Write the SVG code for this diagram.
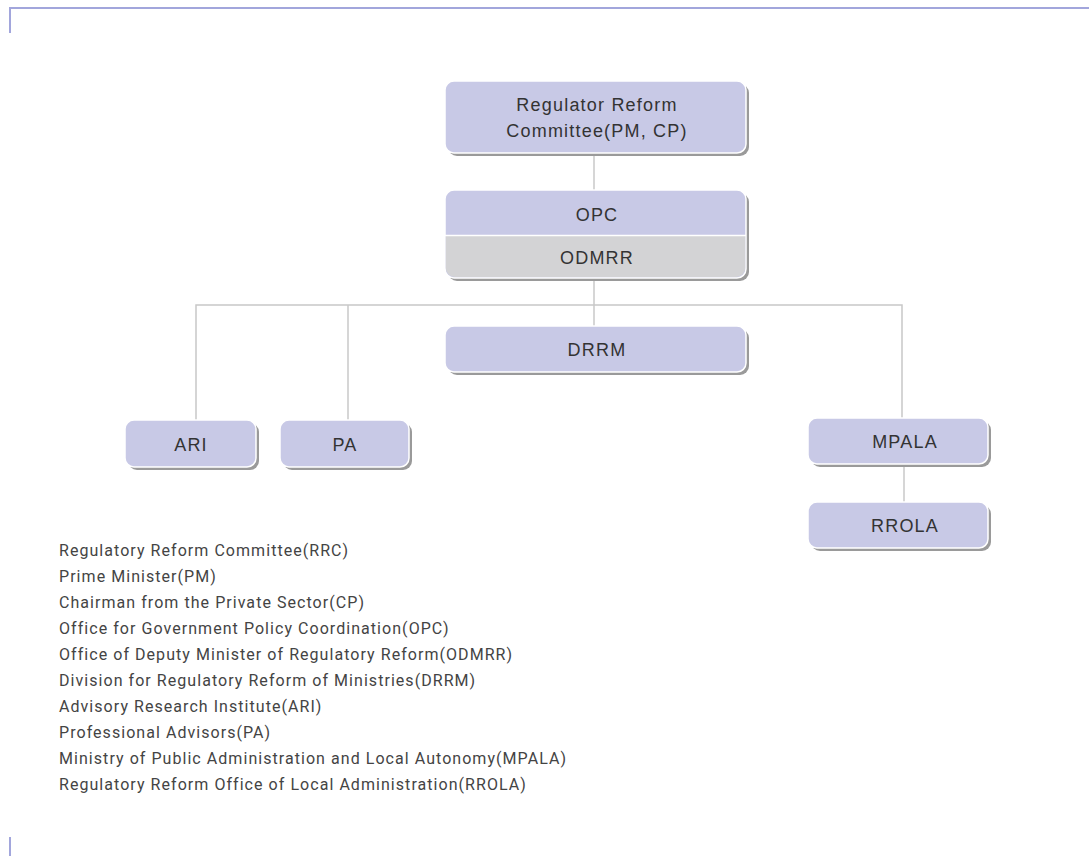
<svg xmlns="http://www.w3.org/2000/svg" width="1089" height="856" viewBox="0 0 1089 856">
<style>
.sh{fill:#9a9a9a}
.bx{fill:#c8c9e6;stroke:#ffffff;stroke-width:1.5}
.gr{fill:#d3d3d5}
.t{font-family:"Liberation Sans",Arial,sans-serif;font-size:18px;letter-spacing:1.2px;fill:#333;text-anchor:middle}
.l{font-family:Roboto,"Noto Sans",sans-serif;font-size:16px;letter-spacing:1.05px;fill:#444}
.c{stroke:#c8c8c8;stroke-width:1.5;fill:none}
.fr{stroke:#a2a6dc;stroke-width:2;fill:none}
</style>
<rect width="1089" height="856" fill="#fff"/>
<g id="frame">
<path class="fr" d="M10,33 V8 H1089"/>
<path class="fr" d="M10,837 V856"/>
</g>
<g id="connectors">
<path class="c" d="M594,155 V190"/>
<path class="c" d="M594,280 V326"/>
<path class="c" d="M196,420 V305 H902 V418"/>
<path class="c" d="M348,305 V420"/>
<path class="c" d="M904,466 V502"/>
</g>
<g id="rrc">
<rect class="sh" x="448" y="84" width="301" height="72" rx="9"/>
<rect class="bx" x="445" y="81" width="301" height="72" rx="9"/>
<text class="t" x="597" y="111">Regulator Reform</text>
<text class="t" x="597" y="137">Committee(PM, CP)</text>
</g>
<g id="opc">
<rect class="sh" x="448" y="193" width="301" height="88" rx="9"/>
<rect class="bx" x="445" y="190" width="301" height="88" rx="9"/>
<path class="gr" d="M445.8,236 H745.2 V268 a9,9 0 0 1 -9,9 H454.8 a9,9 0 0 1 -9,-9 Z"/>
<line x1="445" y1="235.5" x2="746" y2="235.5" stroke="#fff" stroke-width="1.5"/>
<text class="t" x="597" y="221">OPC</text>
<text class="t" x="597" y="264">ODMRR</text>
</g>
<g id="drrm">
<rect class="sh" x="448" y="329" width="301" height="46" rx="9"/>
<rect class="bx" x="445" y="326" width="301" height="46" rx="9"/>
<text class="t" x="597" y="356">DRRM</text>
</g>
<g id="ari">
<rect class="sh" x="128" y="423" width="131" height="47" rx="9"/>
<rect class="bx" x="125" y="420" width="131" height="47" rx="9"/>
<text class="t" x="191" y="451">ARI</text>
</g>
<g id="pa">
<rect class="sh" x="283" y="423" width="129" height="47" rx="9"/>
<rect class="bx" x="280" y="420" width="129" height="47" rx="9"/>
<text class="t" x="345" y="451">PA</text>
</g>
<g id="mpala">
<rect class="sh" x="811" y="421" width="180" height="46" rx="9"/>
<rect class="bx" x="808" y="418" width="180" height="46" rx="9"/>
<text class="t" x="905" y="448">MPALA</text>
</g>
<g id="rrola">
<rect class="sh" x="811" y="505" width="180" height="46" rx="9"/>
<rect class="bx" x="808" y="502" width="180" height="46" rx="9"/>
<text class="t" x="905" y="532">RROLA</text>
</g>
<g id="legend">
<text class="l" x="59" y="556">Regulatory Reform Committee(RRC)</text>
<text class="l" x="59" y="582">Prime Minister(PM)</text>
<text class="l" x="59" y="608">Chairman from the Private Sector(CP)</text>
<text class="l" x="59" y="634">Office for Government Policy Coordination(OPC)</text>
<text class="l" x="59" y="660">Office of Deputy Minister of Regulatory Reform(ODMRR)</text>
<text class="l" x="59" y="686">Division for Regulatory Reform of Ministries(DRRM)</text>
<text class="l" x="59" y="712">Advisory Research Institute(ARI)</text>
<text class="l" x="59" y="738">Professional Advisors(PA)</text>
<text class="l" x="59" y="764">Ministry of Public Administration and Local Autonomy(MPALA)</text>
<text class="l" x="59" y="790">Regulatory Reform Office of Local Administration(RROLA)</text>
</g>
</svg>
